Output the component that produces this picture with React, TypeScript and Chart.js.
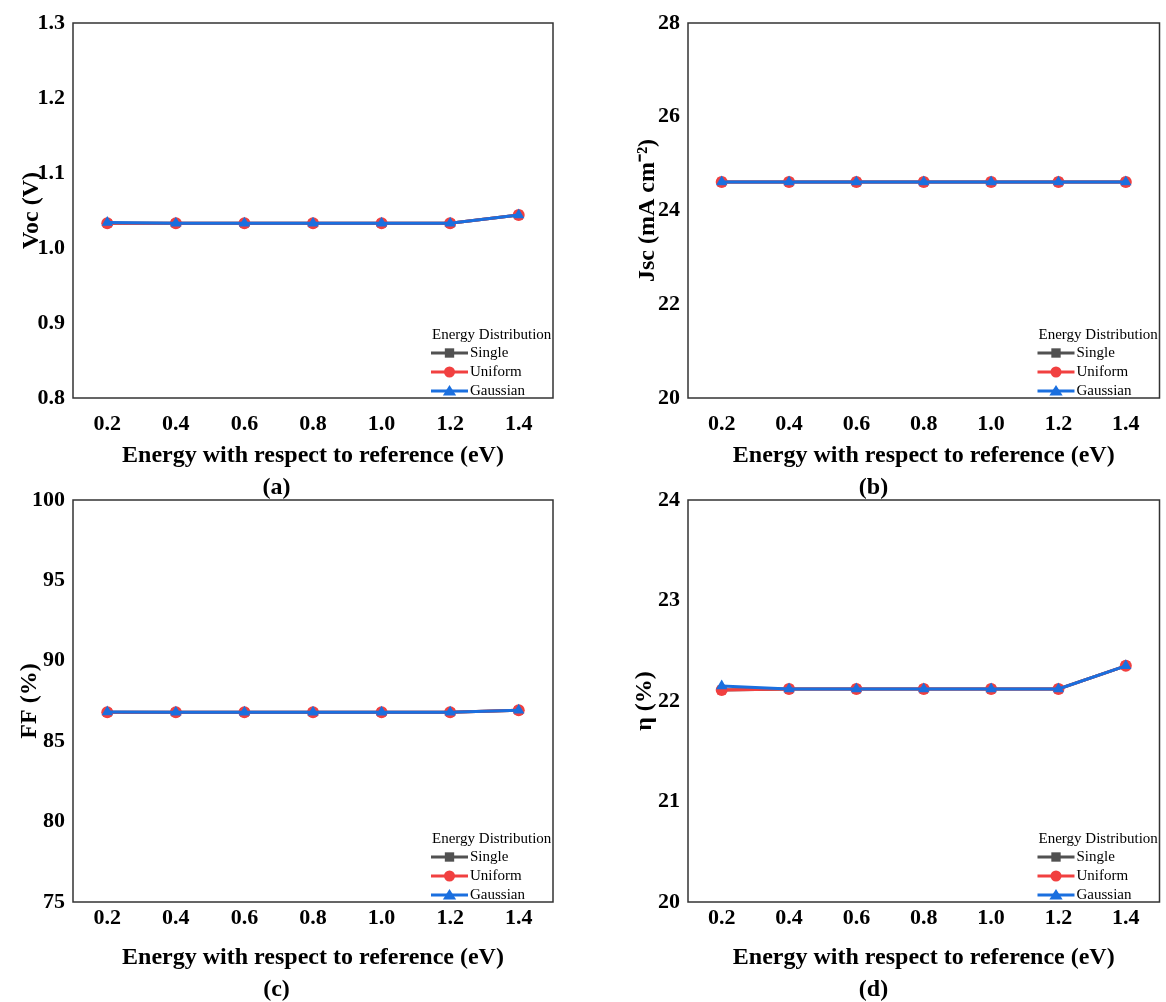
import React, { useEffect, useRef } from 'react';
import { Chart, registerables } from 'chart.js';

Chart.register(...registerables);

const FONT = "'Times New Roman', 'Liberation Serif', serif";

// Categories (x axis tick labels)
const energyLabels = ['0.2', '0.4', '0.6', '0.8', '1.0', '1.2', '1.4'];

// Series
const seriesNames = ['Single', 'Uniform', 'Gaussian'];
const seriesColors = ['#515151', '#F14040', '#1A6FDF'];
const seriesMarkers = ['rect', 'circle', 'triangle'];
const legendTitle = 'Energy Distribution';
const xAxisTitle = 'Energy with respect to reference (eV)';

// (a) Voc (V)
const vocSingle = [1.033, 1.033, 1.033, 1.033, 1.033, 1.033, 1.044];
const vocUniform = [1.033, 1.033, 1.033, 1.033, 1.033, 1.033, 1.044];
const vocGaussian = [1.034, 1.033, 1.033, 1.033, 1.033, 1.033, 1.044];

// (b) Jsc (mA cm-2)
const jscSingle = [24.61, 24.61, 24.61, 24.61, 24.61, 24.61, 24.61];
const jscUniform = [24.61, 24.61, 24.61, 24.61, 24.61, 24.61, 24.61];
const jscGaussian = [24.61, 24.61, 24.61, 24.61, 24.61, 24.61, 24.61];

// (c) FF (%)
const ffSingle = [86.8, 86.8, 86.8, 86.8, 86.8, 86.8, 86.92];
const ffUniform = [86.8, 86.8, 86.8, 86.8, 86.8, 86.8, 86.92];
const ffGaussian = [86.82, 86.8, 86.8, 86.8, 86.8, 86.8, 86.92];

// (d) eta (%)
const etaSingle = [22.11, 22.12, 22.12, 22.12, 22.12, 22.12, 22.35];
const etaUniform = [22.11, 22.12, 22.12, 22.12, 22.12, 22.12, 22.35];
const etaGaussian = [22.15, 22.12, 22.12, 22.12, 22.12, 22.12, 22.35];

type Panel = {
  key: string;
  left: number;
  top: number;
  width: number;
  height: number;
  yTitle: string;
  yMin: number;
  yMax: number;
  yStep: number;
  decimals: number;
  label: string;
  values: number[][];
  padTop: number;
  padRight: number;
  yWidth: number;
  yTitlePad: number;
  xHeight: number;
  xTickPad: number;
  xTitlePad: number;
};

const panels: Panel[] = [
  {
    key: 'a', left: 0, top: 0, width: 583, height: 500,
    yTitle: 'Voc (V)', yMin: 0.8, yMax: 1.3, yStep: 0.1, decimals: 1, label: '(a)',
    values: [vocSingle, vocUniform, vocGaussian],
    padTop: 23, padRight: 30, yWidth: 73, yTitlePad: 20, xHeight: 70, xTickPad: 15, xTitlePad: 0,
  },
  {
    key: 'b', left: 583, top: 0, width: 583, height: 500,
    yTitle: 'Jsc (mA cm\u207B\u00B2)', yMin: 20, yMax: 28, yStep: 2, decimals: 0, label: '(b)',
    values: [jscSingle, jscUniform, jscGaussian],
    padTop: 23, padRight: 2, yWidth: 105, yTitlePad: 53, xHeight: 70, xTickPad: 15, xTitlePad: 0,
  },
  {
    key: 'c', left: 0, top: 480, width: 583, height: 522,
    yTitle: 'FF (%)', yMin: 75, yMax: 100, yStep: 5, decimals: 0, label: '(c)',
    values: [ffSingle, ffUniform, ffGaussian],
    padTop: 20, padRight: 30, yWidth: 73, yTitlePad: 18, xHeight: 68, xTickPad: 5, xTitlePad: 1,
  },
  {
    key: 'd', left: 583, top: 480, width: 583, height: 522,
    yTitle: '\u03B7 (%)', yMin: 20, yMax: 24, yStep: 1, decimals: 0, label: '(d)',
    values: [etaSingle, etaUniform, etaGaussian],
    padTop: 20, padRight: 2, yWidth: 105, yTitlePad: 50, xHeight: 68, xTickPad: 5, xTitlePad: 1,
  },
];

function drawMarker(ctx: CanvasRenderingContext2D, style: string, x: number, y: number, r: number) {
  ctx.beginPath();
  if (style === 'rect') {
    const s = r * 0.85;
    ctx.rect(x - s, y - s, 2 * s, 2 * s);
  } else if (style === 'circle') {
    ctx.arc(x, y, r, 0, Math.PI * 2);
  } else {
    const h = r * 1.1;
    ctx.moveTo(x, y - h);
    ctx.lineTo(x + h * 1.1, y + h * 0.75);
    ctx.lineTo(x - h * 1.1, y + h * 0.75);
    ctx.closePath();
  }
  ctx.fill();
}

const boxLegendPlugin = {
  id: 'boxLegend',
  afterDatasetsDraw(chart: any) {
    const { ctx, chartArea: a } = chart;
    ctx.save();
    ctx.strokeStyle = '#333333';
    ctx.lineWidth = 1.5;
    ctx.strokeRect(a.left, a.top, a.right - a.left, a.bottom - a.top);

    const x0 = a.right - 122;
    ctx.font = `15px ${FONT}`;
    ctx.fillStyle = '#000';
    ctx.textAlign = 'left';
    ctx.textBaseline = 'middle';
    ctx.fillText(legendTitle, x0 + 1, a.bottom - 63);
    seriesNames.forEach((name, i) => {
      const y = a.bottom - 45 + i * 19;
      ctx.strokeStyle = seriesColors[i];
      ctx.fillStyle = seriesColors[i];
      ctx.lineWidth = 3;
      ctx.beginPath();
      ctx.moveTo(x0, y);
      ctx.lineTo(x0 + 37, y);
      ctx.stroke();
      drawMarker(ctx, seriesMarkers[i], x0 + 18.5, y, 5.5);
      ctx.fillStyle = '#000';
      ctx.fillText(name, x0 + 39, y);
    });
    ctx.restore();
  },
};

function PanelChart({ p }: { p: Panel }) {
  const ref = useRef<HTMLCanvasElement | null>(null);
  useEffect(() => {
    if (!ref.current) return;
    const chart = new Chart(ref.current, {
      type: 'line',
      data: {
        labels: energyLabels,
        datasets: seriesNames.map((name, i) => ({
          label: name,
          data: p.values[i],
          order: seriesNames.length - 1 - i,
          borderColor: seriesColors[i],
          backgroundColor: seriesColors[i],
          pointBackgroundColor: seriesColors[i],
          pointBorderColor: seriesColors[i],
          pointStyle: seriesMarkers[i] as any,
          pointRadius: seriesMarkers[i] === 'triangle' ? 6.5 : 6,
          pointBorderWidth: 0,
          borderWidth: 3,
          tension: 0,
          fill: false,
        })),
      },
      options: {
        responsive: false,
        animation: false,
        layout: { padding: { top: p.padTop, right: p.padRight, left: 0, bottom: 0 } },
        plugins: {
          legend: { display: false },
          tooltip: { enabled: false },
          title: {
            display: true,
            position: 'bottom',
            text: p.label,
            color: '#000',
            font: { family: FONT, size: 24, weight: 'bold', lineHeight: 1 },
            padding: { top: 8, bottom: 0 },
          },
        },
        scales: {
          x: {
            type: 'category',
            offset: true,
            grid: { display: false, drawTicks: false },
            border: { display: false },
            ticks: {
              color: '#000',
              padding: p.xTickPad,
              maxRotation: 0,
              font: { family: FONT, size: 22, weight: 'bold', lineHeight: 1 },
            },
            title: {
              display: true,
              text: xAxisTitle,
              color: '#000',
              padding: { top: p.xTitlePad, bottom: 0 },
              font: { family: FONT, size: 24, weight: 'bold', lineHeight: 1 },
            },
            afterFit: (scale: any) => {
              scale.height = p.xHeight;
              scale.paddingRight = 0;
              scale.paddingLeft = 0;
            },
          },
          y: {
            type: 'linear',
            min: p.yMin,
            max: p.yMax,
            grid: { display: false, drawTicks: false },
            border: { display: false },
            ticks: {
              stepSize: p.yStep,
              color: '#000',
              padding: 8,
              font: { family: FONT, size: 22, weight: 'bold', lineHeight: 1 },
              callback: (v: any) => Number(v).toFixed(p.decimals),
            },
            title: {
              display: true,
              text: p.yTitle,
              color: '#000',
              padding: { top: p.yTitlePad, bottom: 0 },
              font: { family: FONT, size: 24, weight: 'bold', lineHeight: 1 },
            },
            afterFit: (scale: any) => {
              scale.width = p.yWidth;
              scale.paddingLeft = 0;
              scale.paddingRight = 0;
            },
          },
        },
      },
      plugins: [boxLegendPlugin],
    });
    return () => chart.destroy();
  }, [p]);
  return (
    <canvas
      ref={ref}
      width={p.width}
      height={p.height}
      style={{ position: 'absolute', left: p.left, top: p.top, width: p.width, height: p.height, display: 'block' }}
    />
  );
}

export default function App() {
  return (
    <div style={{ position: 'absolute', left: 0, top: 0, width: 1166, height: 1002, background: '#fff', overflow: 'hidden' }}>
      {panels.map((p) => (
        <PanelChart key={p.key} p={p} />
      ))}
    </div>
  );
}
